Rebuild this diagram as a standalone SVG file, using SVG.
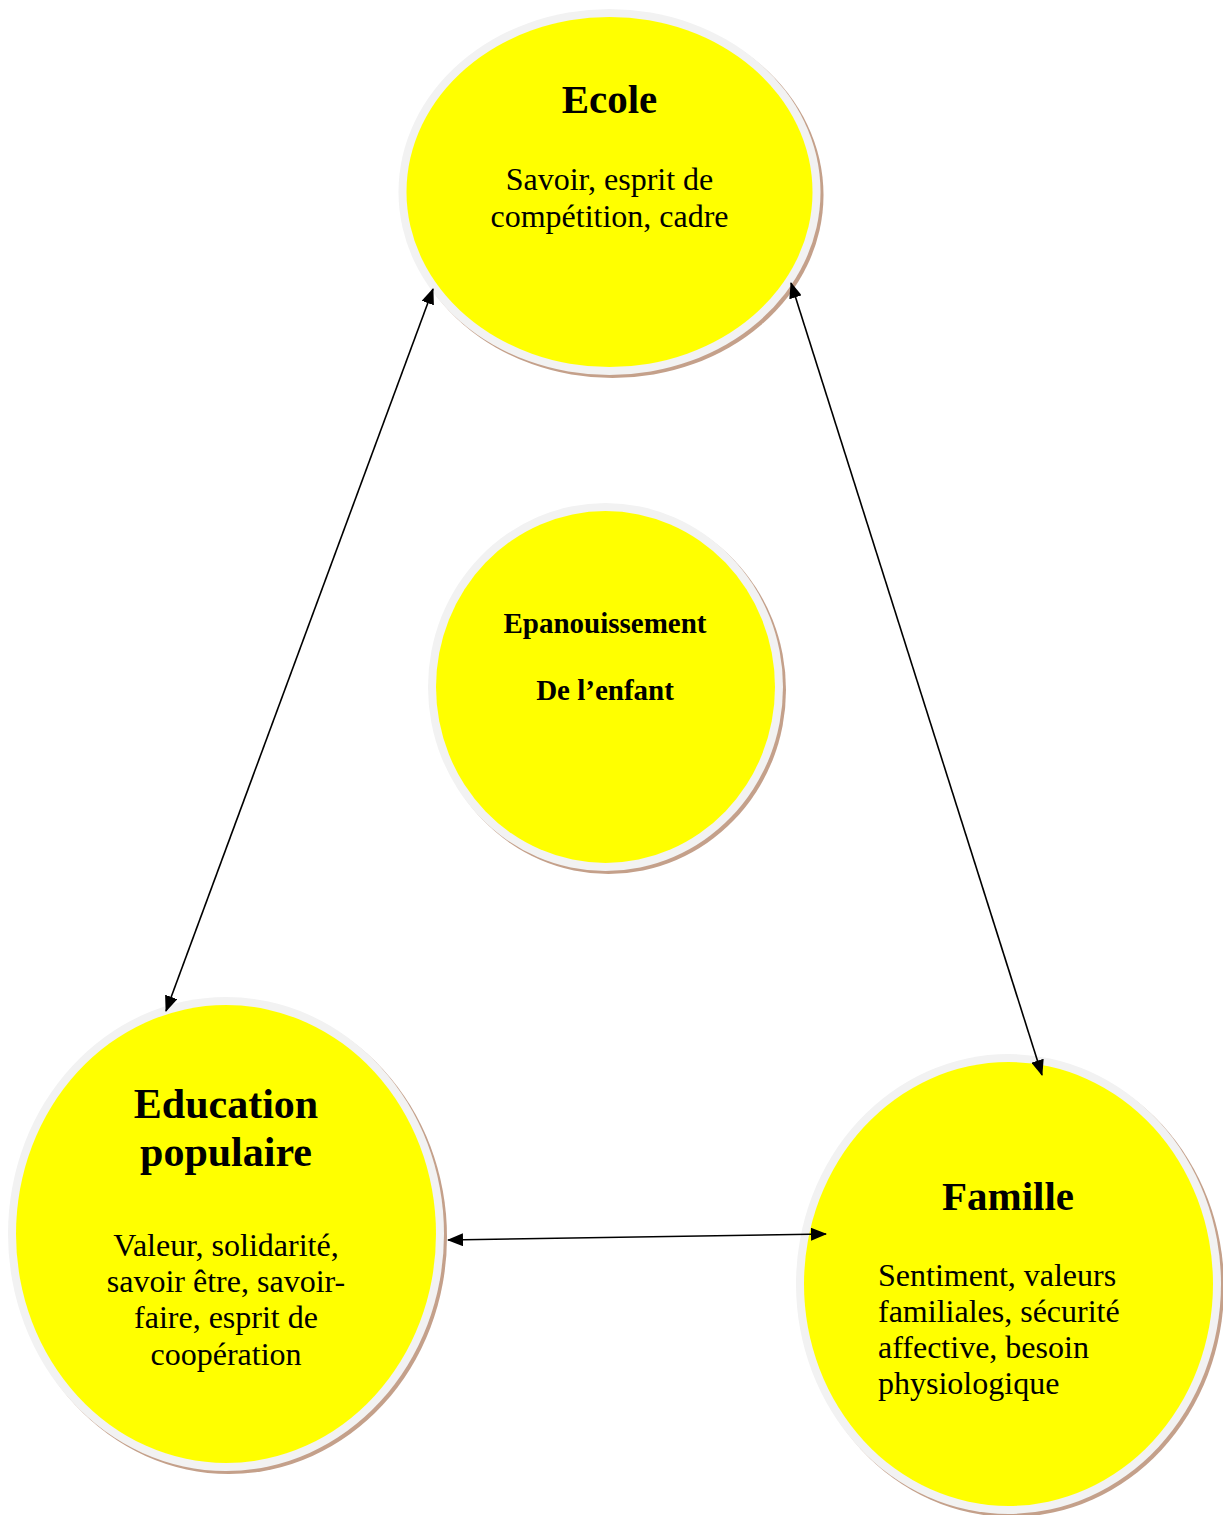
<svg xmlns="http://www.w3.org/2000/svg" width="1223" height="1515" viewBox="0 0 1223 1515">
<style>
.shadow{fill:#c4a08a}
.ring{fill:#f2f2f2}
.core{fill:#ffff00}
.t{font-family:"Liberation Serif","Times New Roman",serif;fill:#000}
.title{font-weight:bold;text-anchor:middle}
.body{font-size:32px}
.mid{text-anchor:middle}
.conn{stroke:#000;stroke-width:1.6;fill:none;marker-start:url(#ah);marker-end:url(#ah)}
</style>
<defs>
<marker id="ah" viewBox="0 0 16 13" refX="15" refY="6.5" markerWidth="16" markerHeight="13" markerUnits="userSpaceOnUse" orient="auto-start-reverse">
<path d="M0,0 L16,6.5 L0,13 Z" fill="#000"/>
</marker>
</defs>
<rect width="1223" height="1515" fill="#fff"/>
<g id="ecole">
<ellipse class="shadow" cx="612.5" cy="195" rx="211" ry="183"/>
<ellipse class="ring" cx="609.5" cy="192" rx="211" ry="183"/>
<ellipse class="core" cx="609.5" cy="192" rx="203" ry="175"/>
<text class="t title" x="609.5" y="113" font-size="41">Ecole</text>
<text class="t body mid" x="609.5" y="190">Savoir, esprit de</text>
<text class="t body mid" x="609.5" y="227">compétition, cadre</text>
</g>
<g id="epanouissement">
<ellipse class="shadow" cx="608.5" cy="690" rx="177.5" ry="184"/>
<ellipse class="ring" cx="605.5" cy="687" rx="177.5" ry="184"/>
<ellipse class="core" cx="605.5" cy="687" rx="169.5" ry="176"/>
<text class="t title" x="605" y="633" font-size="29">Epanouissement</text>
<text class="t title" x="605" y="700" font-size="29">De l’enfant</text>
</g>
<g id="education-populaire">
<ellipse class="shadow" cx="229" cy="1237" rx="218" ry="237"/>
<ellipse class="ring" cx="226" cy="1234" rx="218" ry="237"/>
<ellipse class="core" cx="226" cy="1234" rx="210" ry="229"/>
<text class="t title" x="226" y="1118" font-size="42">Education</text>
<text class="t title" x="226" y="1166" font-size="42">populaire</text>
<text class="t body mid" x="226" y="1256">Valeur, solidarité,</text>
<text class="t body mid" x="226" y="1292">savoir être, savoir-</text>
<text class="t body mid" x="226" y="1328">faire, esprit de</text>
<text class="t body mid" x="226" y="1365">coopération</text>
</g>
<g id="famille">
<ellipse class="shadow" cx="1011.5" cy="1287" rx="212.5" ry="230"/>
<ellipse class="ring" cx="1008.5" cy="1284" rx="212.5" ry="230"/>
<ellipse class="core" cx="1008.5" cy="1284" rx="204.5" ry="222"/>
<text class="t title" x="1008" y="1210" font-size="41">Famille</text>
<text class="t body" x="878" y="1286">Sentiment, valeurs</text>
<text class="t body" x="878" y="1322">familiales, sécurité</text>
<text class="t body" x="878" y="1358">affective, besoin</text>
<text class="t body" x="878" y="1394">physiologique</text>
</g>
<g id="connectors">
<line class="conn" x1="433" y1="289" x2="166" y2="1011"/>
<line class="conn" x1="791" y1="283" x2="1042" y2="1075"/>
<line class="conn" x1="448" y1="1240" x2="826" y2="1234"/>
</g>
</svg>
